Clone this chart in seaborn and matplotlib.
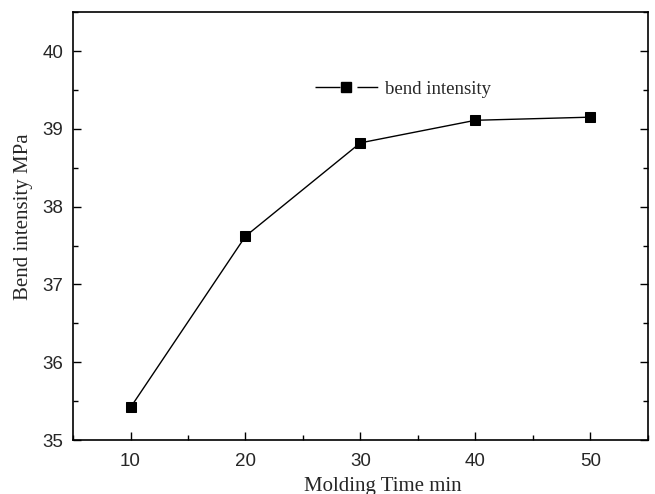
import matplotlib
matplotlib.use("Agg")
import matplotlib.pyplot as plt
from matplotlib.lines import Line2D
from matplotlib.ticker import MultipleLocator
import pandas as pd
import seaborn as sns

molding_time = [10, 20, 30, 40, 50]
bend_intensity = [35.42, 37.62, 38.82, 39.11, 39.15]

df = pd.DataFrame({"time": molding_time, "bend intensity": bend_intensity})

sns.set_style("ticks")

fig = plt.figure(figsize=(6.55, 4.94), dpi=100)
ax = fig.add_axes([0.1115, 0.109, 0.8775, 0.8665])

sns.lineplot(
    data=df,
    x="time",
    y="bend intensity",
    marker="s",
    markersize=6.5,
    markeredgecolor="black",
    color="black",
    linewidth=1.0,
    legend=False,
    ax=ax,
)

ax.set_xlim(5, 55)
ax.set_ylim(35, 40.5)
ax.xaxis.set_major_locator(MultipleLocator(10))
ax.xaxis.set_minor_locator(MultipleLocator(5))
ax.yaxis.set_major_locator(MultipleLocator(1))
ax.yaxis.set_minor_locator(MultipleLocator(0.5))

ax.tick_params(which="both", direction="in", right=True, top=False, color="black")
ax.tick_params(which="major", length=6, width=1.0, labelsize=13.5)
ax.tick_params(axis="x", which="major", pad=9)
ax.tick_params(axis="y", which="major", pad=7)
ax.tick_params(which="minor", length=3.5, width=1.0)
for lab in ax.get_xticklabels() + ax.get_yticklabels():
    lab.set_fontfamily("Liberation Sans")

for s in ax.spines.values():
    s.set_visible(True)
    s.set_linewidth(1.2)
    s.set_color("black")

ax.set_xlabel("Molding Time min", fontfamily="Liberation Serif", fontsize=15, labelpad=2)
ax.set_ylabel("Bend intensity MPa", fontfamily="Liberation Serif", fontsize=15, labelpad=7)
ax.xaxis.set_label_coords(0.539, -0.085)
ax.yaxis.label.set_y(0.522)

# legend handle: line - gap - marker - gap - line
handle = Line2D(
    [], [], color="black", linewidth=1.0, marker="s", markersize=6.5,
    linestyle=(0, (18, 12.2, 15, 100)),
)
ax.legend(
    handles=[handle],
    labels=["bend intensity"],
    loc="center left",
    bbox_to_anchor=(0.408, 0.82),
    borderaxespad=0,
    frameon=False,
    prop={"family": "Liberation Serif", "size": 13.5},
    handlelength=3.35,
    handletextpad=0.4,
)

fig.savefig("out.png", dpi=100)
